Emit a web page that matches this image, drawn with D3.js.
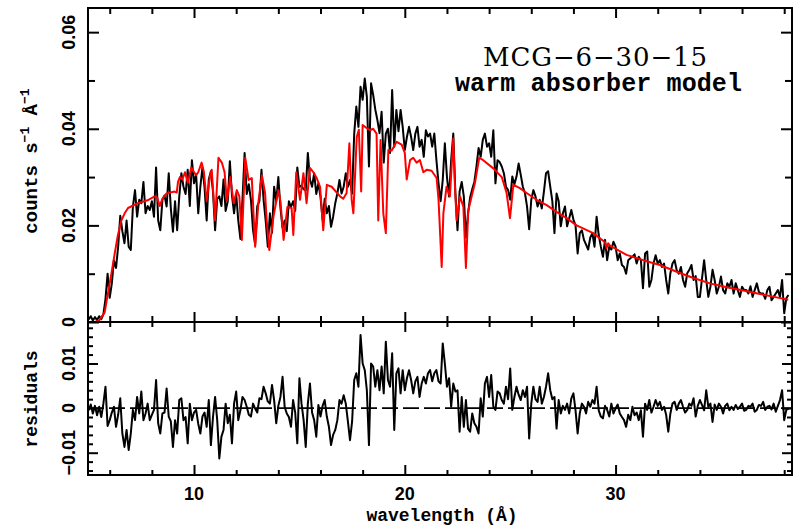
<!DOCTYPE html>
<html><head><meta charset="utf-8">
<script src="https://cdn.jsdelivr.net/npm/d3@7/dist/d3.min.js"></script>
<style>body{margin:0;background:#fff}svg{display:block}</style>
</head><body>
<script>
// ---- data ----
const wlStart = 5.0, wlStep = 0.1;   // bin grid of the spectrum (Å)
const flux = [
0.0005,0.0012,0.0003,0.0010,0.0004,0.0012,0.0006,0.0016,0.0048,0.0100,
0.0050,0.0080,0.0128,0.0112,0.0156,0.0220,0.0188,0.0163,0.0210,0.0156,
0.0149,0.0239,0.0273,0.0218,0.0253,0.0246,0.0290,0.0225,0.0240,0.0232,
0.0250,0.0218,0.0320,0.0210,0.0190,0.0253,0.0262,0.0239,0.0308,0.0235,
0.0187,0.0250,0.0190,0.0260,0.0308,0.0280,0.0265,0.0315,0.0240,0.0335,
0.0287,0.0305,0.0225,0.0280,0.0320,0.0278,0.0210,0.0295,0.0312,0.0270,
0.0190,0.0255,0.0260,0.0240,0.0295,0.0230,0.0250,0.0333,0.0262,0.0225,
0.0265,0.0210,0.0172,0.0255,0.0350,0.0265,0.0285,0.0253,0.0190,0.0160,
0.0240,0.0250,0.0315,0.0253,0.0210,0.0156,0.0225,0.0185,0.0280,0.0250,
0.0300,0.0236,0.0195,0.0210,0.0188,0.0250,0.0238,0.0250,0.0230,0.0320,
0.0280,0.0282,0.0275,0.0272,0.0350,0.0295,0.0280,0.0308,0.0265,0.0287,
0.0259,0.0212,0.0255,0.0225,0.0240,0.0197,0.0218,0.0246,0.0266,0.0294,
0.0266,0.0280,0.0308,0.0280,0.0294,0.0266,0.0390,0.0446,0.0404,0.0487,
0.0460,0.0504,0.0466,0.0322,0.0494,0.0470,0.0440,0.0418,0.0391,0.0435,
0.0330,0.0390,0.0400,0.0350,0.0480,0.0363,0.0439,0.0395,0.0439,0.0404,
0.0356,0.0383,0.0404,0.0383,0.0356,0.0390,0.0404,0.0363,0.0377,0.0342,
0.0397,0.0384,0.0390,0.0363,0.0390,0.0335,0.0287,0.0250,0.0294,0.0370,
0.0300,0.0260,0.0335,0.0390,0.0267,0.0190,0.0270,0.0290,0.0260,0.0175,
0.0225,0.0258,0.0275,0.0290,0.0322,0.0360,0.0342,0.0377,0.0390,0.0363,
0.0370,0.0342,0.0397,0.0287,0.0335,0.0331,0.0322,0.0308,0.0280,0.0273,
0.0253,0.0301,0.0285,0.0301,0.0328,0.0305,0.0280,0.0267,0.0239,0.0192,
0.0253,0.0273,0.0260,0.0239,0.0253,0.0235,0.0270,0.0308,0.0312,0.0280,
0.0250,0.0184,0.0266,0.0250,0.0198,0.0225,0.0239,0.0198,0.0215,0.0232,
0.0212,0.0200,0.0142,0.0184,0.0190,0.0170,0.0160,0.0150,0.0175,0.0184,
0.0156,0.0218,0.0180,0.0156,0.0135,0.0170,0.0128,0.0156,0.0150,0.0166,
0.0156,0.0128,0.0142,0.0118,0.0114,0.0100,0.0128,0.0132,0.0135,0.0140,
0.0121,0.0135,0.0128,0.0070,0.0142,0.0146,0.0073,0.0087,0.0121,0.0138,
0.0121,0.0128,0.0114,0.0121,0.0087,0.0059,0.0101,0.0121,0.0128,0.0107,
0.0100,0.0114,0.0087,0.0073,0.0101,0.0108,0.0118,0.0087,0.0095,0.0052,
0.0052,0.0090,0.0128,0.0087,0.0052,0.0073,0.0108,0.0087,0.0059,0.0073,
0.0094,0.0066,0.0059,0.0080,0.0073,0.0087,0.0059,0.0080,0.0066,0.0052,
0.0073,0.0066,0.0066,0.0059,0.0074,0.0052,0.0066,0.0080,0.0062,0.0059,
0.0059,0.0048,0.0066,0.0073,0.0045,0.0052,0.0059,0.0066,0.0052,0.0087,
0.0018,0.0049,0.0056
];
const resid = [
-0.0005,0.0008,-0.0012,0.0005,-0.0016,0.0003,-0.0020,0.0010,0.0048,-0.0040,
-0.0027,-0.0010,0.0003,-0.0042,-0.0015,0.0022,-0.0057,-0.0087,-0.0049,-0.0094,
-0.0057,-0.0004,-0.0027,0.0025,-0.0012,0.0037,-0.0027,-0.0012,0.0010,-0.0027,
-0.0015,-0.0004,0.0063,-0.0034,-0.0057,-0.0012,-0.0010,0.0044,-0.0019,-0.0030,
-0.0087,-0.0027,-0.0057,0.0018,0.0022,-0.0027,-0.0020,-0.0079,0.0010,-0.0027,
-0.0010,-0.0004,-0.0035,-0.0057,-0.0019,-0.0010,-0.0042,0.0018,-0.0083,-0.0020,
0.0025,-0.0027,-0.0113,-0.0064,-0.0049,0.0010,-0.0034,-0.0015,-0.0079,0.0010,
0.0037,-0.0027,-0.0005,0.0025,0.0018,0.0003,-0.0015,-0.0019,0.0010,-0.0001,
-0.0010,0.0022,0.0020,0.0048,0.0033,0.0015,0.0010,0.0052,0.0018,-0.0034,
0.0005,0.0025,0.0070,0.0003,-0.0012,-0.0020,-0.0042,0.0018,-0.0010,-0.0079,
0.0067,0.0010,-0.0027,-0.0087,0.0010,0.0055,-0.0010,-0.0027,-0.0064,0.0007,
-0.0019,0.0005,0.0018,-0.0019,-0.0042,-0.0083,-0.0060,-0.0049,-0.0027,0.0018,
0.0010,0.0029,0.0010,-0.0030,-0.0072,-0.0030,0.0063,0.0078,0.0048,0.0164,
0.0100,0.0085,0.0040,-0.0083,0.0100,0.0093,0.0048,0.0085,0.0040,0.0093,
0.0033,0.0149,0.0063,0.0048,0.0123,-0.0049,0.0078,0.0089,0.0033,0.0085,
0.0040,0.0067,0.0085,0.0063,0.0033,0.0060,0.0070,0.0025,0.0055,0.0070,
0.0055,0.0078,0.0085,0.0060,0.0078,0.0085,0.0060,0.0055,0.0145,0.0100,
0.0048,0.0067,0.0003,0.0055,0.0037,0.0040,-0.0053,0.0025,-0.0042,0.0018,
-0.0046,-0.0053,-0.0012,-0.0034,-0.0042,-0.0057,0.0022,-0.0019,0.0055,0.0070,
0.0025,0.0074,0.0003,-0.0004,0.0037,0.0033,0.0018,0.0010,0.0048,0.0020,
0.0089,-0.0004,0.0025,0.0048,0.0030,0.0018,0.0040,0.0025,0.0048,-0.0068,
0.0010,0.0048,0.0020,0.0014,0.0048,0.0010,0.0025,0.0048,0.0078,0.0040,
0.0020,0.0025,-0.0046,0.0018,-0.0012,0.0005,-0.0004,0.0010,-0.0012,0.0022,
0.0033,-0.0005,-0.0057,-0.0012,0.0010,0.0003,-0.0012,0.0014,0.0003,0.0018,
0.0010,0.0048,-0.0005,-0.0019,-0.0023,0.0005,-0.0004,-0.0019,0.0010,-0.0012,
-0.0001,0.0008,-0.0012,-0.0020,-0.0027,-0.0042,-0.0015,-0.0027,0.0003,-0.0016,
-0.0010,-0.0027,-0.0005,-0.0064,0.0010,-0.0004,0.0018,-0.0010,0.0003,0.0018,
0.0005,0.0014,-0.0004,0.0003,-0.0015,-0.0053,-0.0012,0.0010,0.0014,-0.0004,
0.0010,0.0018,0.0003,-0.0010,-0.0004,0.0010,0.0005,0.0022,-0.0019,0.0005,
0.0018,0.0007,-0.0005,0.0040,0.0003,0.0010,-0.0031,0.0008,-0.0004,0.0010,
0.0003,-0.0012,0.0005,0.0010,-0.0005,0.0003,-0.0004,0.0007,-0.0002,0.0003,
0.0010,-0.0006,-0.0004,0.0005,0.0003,0.0010,-0.0008,-0.0004,0.0007,0.0005,
0.0014,-0.0004,0.0003,0.0005,-0.0003,0.0010,-0.0008,0.0005,0.0018,0.0040,
-0.0027,-0.0004,-0.0001
];
const modelWl = [5.0,5.3,5.5,5.76,5.9,6.08,6.25,6.39,6.55,6.71,6.87,7.34,7.8,8.13,8.25,8.37,8.5,8.69,9.08,9.18,
9.24,9.33,9.45,9.57,9.71,9.87,10.03,10.1,10.2,10.36,10.47,10.6,10.75,10.84,11.0,11.16,11.32,11.45,11.56,11.72,
11.88,12.03,12.15,12.27,12.43,12.59,12.74,12.9,13.06,13.22,13.37,13.45,13.57,13.77,14.0,14.1,14.25,14.43,14.63,14.71,
14.85,15.03,15.19,15.34,15.5,15.66,15.82,15.98,16.13,16.3,16.53,16.93,17.08,17.24,17.37,17.48,17.56,17.72,17.82,17.93,
18.0,18.11,18.35,18.5,18.66,18.74,18.85,18.98,19.1,19.22,19.38,19.61,19.85,20.0,20.09,20.25,20.4,20.56,20.72,20.88,
21.04,21.27,21.51,21.6,21.75,21.83,21.98,22.14,22.3,22.38,22.46,22.62,22.78,22.9,23.01,23.17,23.33,23.53,23.72,24.2,
24.6,24.83,24.99,25.15,25.46,25.78,26.25,26.73,27.2,27.68,28.15,28.94,29.5,29.57,29.65,29.73,30.52,31.31,32.1,32.9,
33.69,34.48,35.27,36.06,36.85,37.64,38.19];
const modelFlux = [0,0,0.0003,0.002,0.0055,0.010,0.0145,0.018,0.021,0.0225,0.0236,0.0246,0.0252,0.026,0.0258,0.0240,0.0255,0.0266,0.027,0.0268,
0.029,0.030,0.0295,0.031,0.0288,0.032,0.0308,0.0304,0.031,0.033,0.031,0.025,0.030,0.0315,0.021,0.034,0.033,0.031,0.025,0.030,
0.0246,0.0273,0.026,0.017,0.034,0.0294,0.0298,0.0156,0.025,0.0304,0.0267,0.021,0.0149,0.0218,0.0273,0.025,0.017,0.0238,0.0236,0.018,
0.031,0.0253,0.0308,0.0246,0.0319,0.031,0.0298,0.028,0.019,0.0284,0.028,0.026,0.0255,0.0267,0.037,0.0253,0.0225,0.0383,0.0398,0.027,
0.0408,0.0404,0.0397,0.040,0.039,0.021,0.0377,0.0225,0.0184,0.0356,0.0355,0.0373,0.0367,0.035,0.0295,0.0335,0.034,0.033,0.0335,0.031,
0.0315,0.0313,0.0298,0.0253,0.0114,0.0225,0.028,0.026,0.038,0.028,0.021,0.026,0.0238,0.0112,0.023,0.026,0.0288,0.034,0.0335,0.0318,
0.030,0.0267,0.0215,0.0284,0.0277,0.0267,0.0253,0.0242,0.0228,0.0215,0.020,0.0184,0.0165,0.0153,0.0163,0.0158,0.0139,0.0128,0.0118,0.0104,
0.0091,0.008,0.0072,0.0065,0.0058,0.0051,0.0046];

const xMajor = [10, 20, 30];
const xMinor = [6, 8, 12, 14, 16, 18, 22, 24, 26, 28, 32, 34, 36, 38];
const xLabels = ["10", "20", "30"];
const y1Major = [0, 0.02, 0.04, 0.06];
const y1Minor = [0.01, 0.03, 0.05];
const y1Labels = ["0", "0.02", "0.04", "0.06"];
const y2Major = [-0.01, 0, 0.01];
const y2Minor = [-0.014,-0.012,-0.008,-0.006,-0.004,-0.002,0.002,0.004,0.006,0.008,0.012,0.014,0.016,0.018];
const y2Labels = ["\u22120.01", "0", "0.01"];

// ---- layout ----
const W = 801, H = 531;
const L = 88, R = 792, T1 = 8, B1 = 322, T2 = 322, B2 = 475;

const svg = d3.select("body").append("svg").attr("width", W).attr("height", H)
  .style("font-family", "'Liberation Sans', Arial, sans-serif");

const x = d3.scaleLinear().domain([4.97, 38.37]).range([L, R]);
const y1 = d3.scaleLinear().domain([0, 0.065]).range([B1, T1]);
const y2 = d3.scaleLinear().domain([-0.015, 0.0193]).range([B2, T2]);

const wl = flux.map((_, i) => wlStart + i * wlStep);
const spec = flux.map((v, i) => [wl[i], v]);
const res = resid.map((v, i) => [wl[i], v]);
const model = modelWl.map((w, i) => [w, modelFlux[i]]);

const defs = svg.append("defs");
defs.append("clipPath").attr("id", "c1").append("rect").attr("x", L).attr("y", T1).attr("width", R - L).attr("height", B1 - T1);
defs.append("clipPath").attr("id", "c2").append("rect").attr("x", L).attr("y", T2).attr("width", R - L).attr("height", B2 - T2);

// top panel lines
const g1 = svg.append("g").attr("clip-path", "url(#c1)");
g1.append("path").datum(spec).attr("fill", "none").attr("stroke", "#000").attr("stroke-width", 2).attr("stroke-linejoin", "round")
  .attr("d", d3.line().x(d => x(d[0])).y(d => y1(d[1])));
g1.append("path").datum(model).attr("fill", "none").attr("stroke", "#ff0000").attr("stroke-width", 2).attr("stroke-linejoin", "round")
  .attr("d", d3.line().x(d => x(d[0])).y(d => y1(d[1])));

// bottom panel
const g2 = svg.append("g").attr("clip-path", "url(#c2)");
g2.append("path").datum([[4.97, 0], [38.37, 0]]).attr("fill", "none").attr("stroke", "#000").attr("stroke-width", 1.6)
  .attr("stroke-dasharray", "16,5")
  .attr("d", d3.line().x(d => x(d[0])).y(d => y2(d[1])));
g2.append("path").datum(res).attr("fill", "none").attr("stroke", "#000").attr("stroke-width", 2).attr("stroke-linejoin", "round")
  .attr("d", d3.line().x(d => x(d[0])).y(d => y2(d[1])));

// ticks via d3 axes (inside-pointing)
function ticks(axisFn, scale, vals, size, tx, ty) {
  const g = svg.append("g").attr("transform", `translate(${tx},${ty})`)
    .call(axisFn(scale).tickValues(vals).tickSize(-size).tickFormat(""));
  g.select(".domain").remove();
  g.selectAll(".tick line").attr("stroke", "#000").attr("stroke-width", 2);
}
// top panel
ticks(d3.axisBottom, x, xMajor, 10, 0, B1);
ticks(d3.axisBottom, x, xMinor, 6, 0, B1);
ticks(d3.axisTop, x, xMajor, 10, 0, T1);
ticks(d3.axisTop, x, xMinor, 6, 0, T1);
ticks(d3.axisLeft, y1, y1Major, 11, L, 0);
ticks(d3.axisLeft, y1, y1Minor, 7, L, 0);
ticks(d3.axisRight, y1, y1Major, 11, R, 0);
ticks(d3.axisRight, y1, y1Minor, 7, R, 0);
// bottom panel
ticks(d3.axisBottom, x, xMajor, 10, 0, B2);
ticks(d3.axisBottom, x, xMinor, 5, 0, B2);
ticks(d3.axisTop, x, xMajor, 10, 0, T2);
ticks(d3.axisTop, x, xMinor, 5, 0, T2);
ticks(d3.axisLeft, y2, y2Major, 10, L, 0);
ticks(d3.axisLeft, y2, y2Minor, 5, L, 0);
ticks(d3.axisRight, y2, y2Major, 10, R, 0);
ticks(d3.axisRight, y2, y2Minor, 5, R, 0);

// frames
svg.append("rect").attr("x", L).attr("y", T1).attr("width", R - L).attr("height", B1 - T1)
  .attr("fill", "none").attr("stroke", "#000").attr("stroke-width", 2);
svg.append("rect").attr("x", L).attr("y", T2).attr("width", R - L).attr("height", B2 - T2)
  .attr("fill", "none").attr("stroke", "#000").attr("stroke-width", 2);

// tick labels
svg.append("g").selectAll("text").data(xMajor).join("text")
  .attr("x", d => x(d)).attr("y", 500).attr("text-anchor", "middle")
  .attr("font-size", 18).attr("font-weight", "bold").text((d, i) => xLabels[i]);
svg.append("g").selectAll("text").data(y1Major).join("text")
  .attr("transform", d => `translate(75,${y1(d)}) rotate(-90)`).attr("text-anchor", "middle")
  .attr("font-size", 18).attr("font-weight", "bold").text((d, i) => y1Labels[i]);
svg.append("g").selectAll("text").data(y2Major).join("text")
  .attr("transform", d => `translate(75,${y2(d)}) rotate(-90)`).attr("text-anchor", "middle")
  .attr("font-size", 18).attr("font-weight", "bold").text((d, i) => y2Labels[i]);

// axis titles
const mono = "'Liberation Mono', 'DejaVu Sans Mono', monospace";
svg.append("text").attr("x", 442).attr("y", 521).attr("text-anchor", "middle")
  .attr("font-family", mono).attr("font-weight", "bold").attr("font-size", 18).text("wavelength (\u00c5)");
svg.append("text").attr("transform", "translate(37,399) rotate(-90)").attr("text-anchor", "middle")
  .attr("font-family", mono).attr("font-weight", "bold").attr("font-size", 18).text("residuals");
const yl = svg.append("text").attr("transform", "translate(37,161) rotate(-90)").attr("text-anchor", "middle")
  .attr("font-family", mono).attr("font-weight", "bold").attr("font-size", 19);
yl.append("tspan").text("counts s");
yl.append("tspan").attr("dy", -8).attr("font-size", 13).text("\u22121");
yl.append("tspan").attr("dy", 8).text(" \u00c5");
yl.append("tspan").attr("dy", -8).attr("font-size", 13).text("\u22121");

// annotation
svg.append("text").attr("x", 483).attr("y", 66).attr("font-family", "'DejaVu Serif', serif")
  .attr("font-size", 26).attr("textLength", 224).attr("lengthAdjust", "spacing").text("MCG\u22126\u221230\u221215");
svg.append("text").attr("x", 455).attr("y", 91).attr("font-family", mono).attr("font-weight", "bold")
  .attr("font-size", 25).attr("textLength", 287).attr("lengthAdjust", "spacing").text("warm absorber model");
</script>
</body></html>
